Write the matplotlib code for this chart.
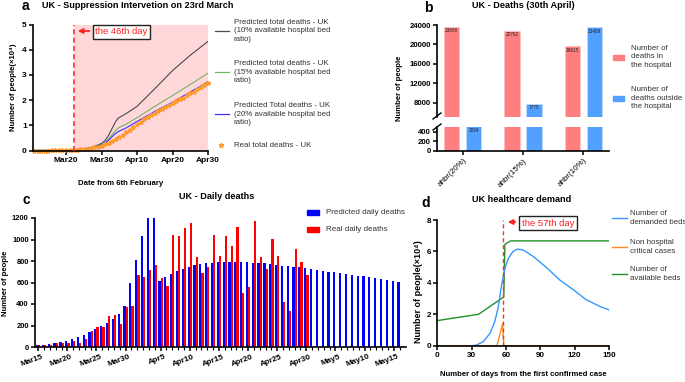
import matplotlib
matplotlib.use("Agg")
import matplotlib.pyplot as plt
import matplotlib.transforms as mtransforms
from matplotlib.lines import Line2D
from matplotlib.patches import Rectangle

W, H = 685, 382

plt.rcParams["font.family"] = ["Liberation Sans", "DejaVu Sans"]

# ---- panel a : cumulative deaths (x10^4) ----
a_tick_pos = [10, 20, 30, 40, 50]
a_tick_labels = ["Mar20", "Mar30", "Apr10", "Apr20", "Apr30"]
a_curve_x = [1, 8, 12, 14, 16, 18, 20, 21, 22, 23, 24, 24.6, 25.5, 27, 30, 35, 40, 45, 50]
a_pred_10 = [0, 0.01, 0.03, 0.05, 0.09, 0.16, 0.28, 0.40, 0.60, 0.88, 1.15, 1.27, 1.35, 1.47, 1.75, 2.45, 3.17, 3.78, 4.33]
a_pred_15 = [0, 0.01, 0.03, 0.05, 0.08, 0.14, 0.24, 0.33, 0.46, 0.63, 0.80, 0.88, 0.95, 1.05, 1.30, 1.75, 2.18, 2.62, 3.07]
a_pred_20 = [0, 0.01, 0.03, 0.05, 0.08, 0.13, 0.22, 0.30, 0.41, 0.55, 0.68, 0.74, 0.80, 0.90, 1.15, 1.55, 1.92, 2.32, 2.73]
a_real_x = list(range(1, 51))
a_real = [0, 0, 0, 0, 0, 0.005, 0.005, 0.01, 0.01, 0.015,
          0.02, 0.025, 0.03, 0.04, 0.05, 0.07, 0.09, 0.12, 0.15, 0.19,
          0.24, 0.31, 0.38, 0.45, 0.53, 0.62, 0.72, 0.83, 0.94, 1.06,
          1.15, 1.24, 1.31, 1.40, 1.48, 1.57, 1.64, 1.72, 1.79, 1.88,
          1.96, 2.03, 2.10, 2.19, 2.27, 2.34, 2.43, 2.51, 2.59, 2.68]
a_day46 = 12.2

# ---- panel b : deaths by 30th April ----
b_groups = ["ahbr(20%)", "ahbr(15%)", "ahbr(10%)"]
b_in_hospital = [23686, 22762, 19615]
b_out_hospital = [3284, 7775, 23489]

# ---- panel c : daily deaths, Mar15 .. May16 ----
c_pred = [15, 20, 27, 37, 48, 58, 77, 95, 115, 140, 163, 193, 227, 262, 308, 382, 597,
          813, 1030, 1200, 1200, 615, 650, 680, 705, 727, 745, 760, 770, 780,
          782, 789, 792, 792, 790, 788, 787, 785, 781, 778, 773, 766, 758, 750, 745, 740, 733,
          725, 717, 710, 702, 695, 688, 680, 672, 664, 657, 649, 641, 633, 624, 616, 607]
c_real = [14, 20, 16, 33, 40, 33, 56, 35, 74, 149, 186, 183, 284, 294, 214, 374, 382,
          670, 652, 715, 761, 644, 568, 1038, 1034, 1103, 1152, 839, 686, 744,
          1044, 842, 1029, 935, 1115, 498, 559, 1172, 837, 727, 1005, 843, 420, 338, 909, 795, 674]
c_tick_pos = [0, 5, 10, 15, 21, 26, 31, 36, 41, 46, 51, 56, 61]
c_tick_labels = ["Mar15", "Mar20", "Mar25", "Mar30", "Apr5", "Apr10", "Apr15",
                 "Apr20", "Apr25", "Apr30", "May5", "May10", "May15"]

# ---- panel d : healthcare demand (x10^4) ----
d_demand_x = [0, 30, 34, 40, 46, 50, 53, 56, 59, 62, 66, 70, 75, 84, 96, 107, 119, 130, 142, 150]
d_demand = [0, 0, 0.04, 0.25, 0.79, 1.5, 2.38, 3.8, 4.93, 5.56, 5.99, 6.15, 6.09, 5.67, 4.93, 4.18, 3.55, 2.93, 2.5, 2.28]
d_noncrit_x = [0, 52, 57, 58, 150]
d_noncrit = [0, 0, 1.4, 0, 0]
d_avail_x = [0, 36, 58, 59, 64, 150]
d_avail = [1.6, 2.0, 3.1, 6.45, 6.67, 6.67]
d_day57 = 57


def add_axes_px(fig, left, top, right, bottom):
    return fig.add_axes([left / W, 1 - bottom / H, (right - left) / W, (bottom - top) / H])


def text_px(fig, x, y, s, **kw):
    return fig.text(x / W, 1 - y / H, s, **kw)


def line_px(fig, x0, x1, y0, y1, **kw):
    fig.add_artist(Line2D([x0 / W, x1 / W], [1 - y0 / H, 1 - y1 / H], transform=fig.transFigure, **kw))


def style_axes(ax, size=5.8):
    for side in ["top", "right"]:
        ax.spines[side].set_visible(False)
    for side in ["left", "bottom"]:
        ax.spines[side].set_linewidth(1.2)
    ax.tick_params(width=1.1, length=3, labelsize=size, pad=1.5)
    for lab in ax.get_xticklabels() + ax.get_yticklabels():
        lab.set_fontweight("bold")


def draw_panel_a(fig):
    ax = add_axes_px(fig, 33, 24.5, 208, 150.5)
    ax.axvspan(a_day46, 50, color="#FFD7D9", zorder=0, lw=0)
    ax.axvline(a_day46, color="#FF3030", lw=1.2, ls=(0, (3, 2)), zorder=3)
    ax.plot(a_curve_x, a_pred_10, color="#4A4A4A", lw=0.8)
    ax.plot(a_curve_x, a_pred_15, color="#72B46C", lw=0.8)
    ax.plot(a_curve_x, a_pred_20, color="#3535FF", lw=0.8)
    ax.plot(a_real_x, a_real, ls="none", marker="*", ms=3.2, color="#FF9A2E", clip_on=False)
    ax.set_xlim(0.7, 50)
    ax.set_ylim(0, 5)
    ax.set_xticks(a_tick_pos)
    ax.set_xticklabels(a_tick_labels)
    ax.set_yticks(range(6))
    style_axes(ax, 6)
    ax.set_xlabel("Date from 6th February", fontsize=5.6, fontweight="bold", labelpad=12)

    text_px(fig, 121.5, 32, "the 46th day", color="#FF2020", fontsize=6.8, ha="center", va="center",
            bbox=dict(boxstyle="square,pad=0.25", fc="white", ec="#222222", lw=1.0))
    ax.annotate("", xy=(75, 382 - 31), xytext=(92, 382 - 31), xycoords="figure pixels",
                textcoords="figure pixels",
                arrowprops=dict(arrowstyle="-|>", color="#FF2020", lw=1.3, mutation_scale=7))

    text_px(fig, 14, 87, "Number of people(×10⁴)", rotation=90, fontsize=5.6, fontweight="bold",
            ha="center", va="center")
    text_px(fig, 25, 6, "a", fontsize=10, fontweight="bold", ha="center", va="center")
    text_px(fig, 42, 5.5, "UK - Suppression Intervetion on 23rd March", fontsize=6.6,
            fontweight="bold", ha="left", va="center")

    entries = [
        (31, "#4A4A4A", "Predicted total deaths - UK\n(10% available hospital bed\nratio)"),
        (72, "#72B46C", "Predicted total deaths - UK\n(15% available hospital bed\nratio)"),
        (114, "#3535FF", "Predicted Total deaths - UK\n(20% available hospital bed\nratio)"),
    ]
    for y, color, label in entries:
        line_px(fig, 215, 229, y, y, color=color, lw=0.9)
        text_px(fig, 234, y, label, fontsize=5.7, color="#333333", ha="left", va="center",
                linespacing=1.25)
    fig.add_artist(Line2D([221 / W], [1 - 145 / H], transform=fig.transFigure, ls="none",
                          marker="*", ms=3.5, color="#FF9A2E"))
    text_px(fig, 234, 145, "Real total deaths - UK", fontsize=5.7, color="#333333", ha="left", va="center")


def draw_panel_b(fig):
    top = add_axes_px(fig, 437, 25, 609, 117.3)
    bot = add_axes_px(fig, 437, 127.3, 609, 150.7)
    xs = range(len(b_groups))
    red, blue = "#FF7F80", "#52A0FF"
    for ax in (top, bot):
        ax.bar([x - 0.183 for x in xs], b_in_hospital, width=0.25, color=red, edgecolor="#FFC0C0", lw=0.5)
        ax.bar([x + 0.183 for x in xs], b_out_hospital, width=0.25, color=blue, edgecolor="#C0DDFF", lw=0.5)
        ax.set_xlim(-0.43, 2.43)
    top.set_ylim(5000, 24000)
    bot.set_ylim(0, 500)
    top.set_yticks([8000, 12000, 16000, 20000, 24000])
    bot.set_yticks([0, 200, 400])
    top.set_xticks([])
    bot.set_xticks(list(xs))
    bot.set_xticklabels(b_groups)
    style_axes(top, 5.6)
    style_axes(bot, 5.6)
    top.spines["bottom"].set_visible(False)
    for lab in bot.get_xticklabels():
        lab.set_fontweight("normal")
        lab.set_rotation(45)
        lab.set_ha("right")
        lab.set_rotation_mode("anchor")
        lab.set_fontsize(5.8)

    for x, v in zip(xs, b_in_hospital):
        top.text(x - 0.183, v - 300, str(v), fontsize=3.4, ha="center", va="top", color="#222222")
    for x, v in zip(xs, b_out_hospital):
        if v > 5000:
            top.text(x + 0.183, v - 300, str(v), fontsize=3.4, ha="center", va="top", color="#222222")
        else:
            bot.text(x + 0.183, 490, str(v), fontsize=3.4, ha="center", va="top", color="#222222")

    # break marks on the y axis
    line_px(fig, 433, 441, 119, 113, color="black", lw=1.0)
    line_px(fig, 433, 441, 130, 124, color="black", lw=1.0)

    text_px(fig, 400, 88, "Number of people", rotation=90, fontsize=5.6, fontweight="bold",
            ha="center", va="center")
    text_px(fig, 428, 8, "b", fontsize=10, fontweight="bold", ha="center", va="center")
    text_px(fig, 523, 6, "UK - Deaths (30th April)", fontsize=6.6, fontweight="bold",
            ha="center", va="center")

    for y, color, label in [(57, red, "Number of\ndeaths in\nthe hospital"),
                            (98, blue, "Number of\ndeaths outside\nthe hospital")]:
        fig.add_artist(Rectangle((613 / W, 1 - (y + 2.5) / H), 11 / W, 5 / H,
                                 transform=fig.transFigure, color=color))
        text_px(fig, 631, y, label, fontsize=5.7, color="#333333", ha="left", va="center",
                linespacing=1.25)


def draw_panel_c(fig):
    ax = add_axes_px(fig, 35, 218, 406, 347)
    days = range(len(c_pred))
    ax.bar([d - 0.19 for d in days], c_pred, width=0.38, color="#0000FF", lw=0)
    ax.bar([d + 0.19 for d in range(len(c_real))], c_real, width=0.38, color="#FF0000", lw=0)
    ax.set_xlim(-0.55, 63.1)
    ax.set_ylim(0, 1200)
    ax.set_yticks(range(0, 1201, 200))
    ax.set_xticks(c_tick_pos)
    ax.set_xticks(list(days), minor=True)
    ax.set_xticklabels(c_tick_labels)
    style_axes(ax, 5.4)
    ax.tick_params(axis="x", which="minor", length=2, width=0.8)
    offset = mtransforms.ScaledTranslation(6 / 100, 0, fig.dpi_scale_trans)
    for lab in ax.get_xticklabels():
        lab.set_rotation(20)
        lab.set_ha("right")
        lab.set_fontsize(5.8)
        lab.set_transform(lab.get_transform() + offset)

    text_px(fig, 6, 283, "Number of people", rotation=90, fontsize=5.6, fontweight="bold",
            ha="center", va="center")
    text_px(fig, 26, 200, "c", fontsize=10, fontweight="bold", ha="center", va="center")
    text_px(fig, 217, 197, "UK - Daily deaths", fontsize=6.6, fontweight="bold",
            ha="center", va="center")
    for y, color, label in [(212, "#0000FF", "Predicted daily deaths"),
                            (229, "#FF0000", "Real daily deaths")]:
        fig.add_artist(Rectangle((307 / W, 1 - (y + 2.5) / H), 12 / W, 5 / H,
                                 transform=fig.transFigure, color=color))
        text_px(fig, 326, y, label, fontsize=5.8, color="#333333", ha="left", va="center")


def draw_panel_d(fig):
    ax = add_axes_px(fig, 437.4, 220, 609, 345.7)
    ax.plot(d_avail_x, d_avail, color="#22902A", lw=1.0)
    ax.plot(d_demand_x, d_demand, color="#3399FF", lw=1.0)
    ax.plot(d_noncrit_x, d_noncrit, color="#FF8C1A", lw=1.0)
    ax.axvline(d_day57, color="#FF3030", lw=1.0, ls=(0, (3, 2)))
    ax.set_xlim(0, 150)
    ax.set_ylim(0, 8)
    ax.set_xticks(range(0, 151, 30))
    ax.set_yticks(range(0, 9, 2))
    style_axes(ax, 5.8)
    ax.set_xlabel("Number of days from the first confirmed case", fontsize=5.6,
                  fontweight="bold", labelpad=9)

    text_px(fig, 548, 223, "the 57th day", color="#FF2020", fontsize=6.8, ha="center", va="center",
            bbox=dict(boxstyle="square,pad=0.25", fc="white", ec="#222222", lw=1.0))
    ax.annotate("", xy=(505, 382 - 222), xytext=(518, 382 - 222), xycoords="figure pixels",
                textcoords="figure pixels",
                arrowprops=dict(arrowstyle="-|>", color="#FF2020", lw=1.3, mutation_scale=7))

    text_px(fig, 418, 292, "Number of people(×10⁴)", rotation=90, fontsize=6.5, fontweight="bold",
            ha="center", va="center")
    text_px(fig, 426, 203, "d", fontsize=10, fontweight="bold", ha="center", va="center")
    text_px(fig, 522, 200, "UK healthcare demand", fontsize=6.6, fontweight="bold",
            ha="center", va="center")
    for y, color, label in [(218, "#3399FF", "Number of\ndemanded beds"),
                            (247, "#FF8C1A", "Non hospital\ncritical cases"),
                            (274, "#22902A", "Number of\navailable beds")]:
        line_px(fig, 612, 627, y, y, color=color, lw=1.0)
        text_px(fig, 630, y, label, fontsize=5.7, color="#333333", ha="left", va="center",
                linespacing=1.25)


def main():
    fig = plt.figure(figsize=(W / 100, H / 100), dpi=100)
    draw_panel_c(fig)
    draw_panel_d(fig)
    draw_panel_a(fig)
    draw_panel_b(fig)
    fig.savefig("out.png", dpi=100)
    plt.close(fig)


if __name__ == "__main__":
    main()
